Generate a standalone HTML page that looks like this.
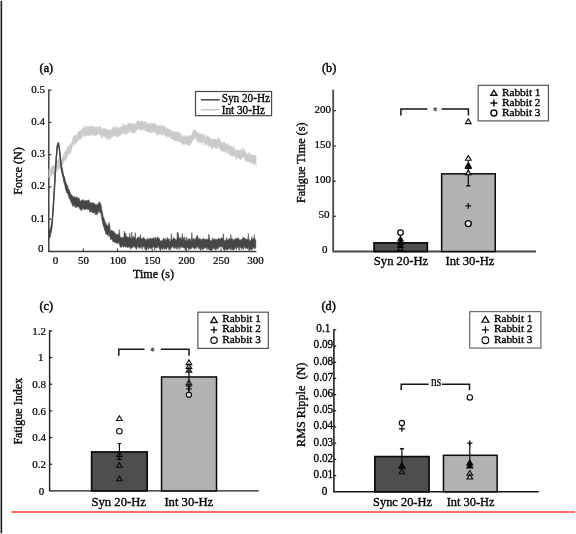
<!DOCTYPE html>
<html><head><meta charset="utf-8"><title>Figure</title>
<style>
html,body{margin:0;padding:0;background:#fff;overflow:hidden;}
svg{display:block;font-family:"Liberation Serif",serif;filter:blur(0.3px);}
</style></head><body>
<svg width="576" height="534" viewBox="0 0 576 534" style="font-family:'Liberation Serif',serif">
<rect x="-5" y="-5" width="586" height="544" fill="#fff"/>
<line x1="1.35" y1="0.8" x2="1.35" y2="533.2" stroke="#161616" stroke-width="1.55" />
<line x1="11.6" y1="511.95" x2="575.3" y2="511.95" stroke="#ff6e6e" stroke-width="1.9" />
<text x="39.6" y="71.6" font-size="12.2" text-anchor="start" fill="#000" stroke="#000" stroke-width="0.42" >(a)</text>
<path d="M48.8 89.60000000000002V251.4H256.4" stroke="#3c3c3c" stroke-width="1.45" fill="none"/>
<line x1="48.8" y1="251.4" x2="51.5" y2="251.4" stroke="#3c3c3c" stroke-width="1.15" />
<text x="43.4" y="252.1" font-size="11" text-anchor="end" fill="#000" stroke="#000" stroke-width="0.22" >0</text>
<line x1="48.8" y1="219.16" x2="51.5" y2="219.16" stroke="#3c3c3c" stroke-width="1.15" />
<text x="45.1" y="221.66" font-size="11" text-anchor="end" fill="#000" stroke="#000" stroke-width="0.22" >0.1</text>
<line x1="48.8" y1="186.92000000000002" x2="51.5" y2="186.92000000000002" stroke="#3c3c3c" stroke-width="1.15" />
<text x="45.1" y="189.42000000000002" font-size="11" text-anchor="end" fill="#000" stroke="#000" stroke-width="0.22" >0.2</text>
<line x1="48.8" y1="154.68" x2="51.5" y2="154.68" stroke="#3c3c3c" stroke-width="1.15" />
<text x="45.1" y="157.18" font-size="11" text-anchor="end" fill="#000" stroke="#000" stroke-width="0.22" >0.3</text>
<line x1="48.8" y1="122.44" x2="51.5" y2="122.44" stroke="#3c3c3c" stroke-width="1.15" />
<text x="45.1" y="124.94" font-size="11" text-anchor="end" fill="#000" stroke="#000" stroke-width="0.22" >0.4</text>
<line x1="48.8" y1="90.20000000000002" x2="51.5" y2="90.20000000000002" stroke="#3c3c3c" stroke-width="1.15" />
<text x="45.1" y="92.70000000000002" font-size="11" text-anchor="end" fill="#000" stroke="#000" stroke-width="0.22" >0.5</text>
<line x1="83.3" y1="251.4" x2="83.3" y2="248.6" stroke="#3c3c3c" stroke-width="1.1" />
<line x1="117.6" y1="251.4" x2="117.6" y2="248.6" stroke="#3c3c3c" stroke-width="1.1" />
<line x1="152.2" y1="251.4" x2="152.2" y2="248.6" stroke="#3c3c3c" stroke-width="1.1" />
<line x1="186.6" y1="251.4" x2="186.6" y2="248.6" stroke="#3c3c3c" stroke-width="1.1" />
<line x1="221.0" y1="251.4" x2="221.0" y2="248.6" stroke="#3c3c3c" stroke-width="1.1" />
<text x="55.5" y="264.1" font-size="11" text-anchor="middle" fill="#000" stroke="#000" stroke-width="0.22" >0</text>
<text x="83.4" y="264.1" font-size="11" text-anchor="middle" fill="#000" stroke="#000" stroke-width="0.22" >50</text>
<text x="118.0" y="264.1" font-size="11" text-anchor="middle" fill="#000" stroke="#000" stroke-width="0.22" >100</text>
<text x="152.3" y="264.1" font-size="11" text-anchor="middle" fill="#000" stroke="#000" stroke-width="0.22" >150</text>
<text x="186.4" y="264.1" font-size="11" text-anchor="middle" fill="#000" stroke="#000" stroke-width="0.22" >200</text>
<text x="221.2" y="264.1" font-size="11" text-anchor="middle" fill="#000" stroke="#000" stroke-width="0.22" >250</text>
<text x="255.6" y="264.1" font-size="11" text-anchor="middle" fill="#000" stroke="#000" stroke-width="0.22" >300</text>
<text x="153.5" y="277.6" font-size="12.1" text-anchor="middle" fill="#000" stroke="#000" stroke-width="0.33" >Time (s)</text>
<text transform="translate(22.3,171) rotate(-90)" font-size="12.2" text-anchor="middle" fill="#000" stroke="#000" stroke-width="0.33" >Force (N)</text>
<polygon points="48.8,170.4 49.3,168.5 49.9,169.4 50.4,168.7 51.0,167.8 51.5,166.6 52.1,166.3 52.6,165.6 53.2,165.9 53.7,165.3 54.3,165.3 54.8,165.8 55.4,164.6 55.9,164.3 56.5,164.3 57.0,160.4 57.6,160.6 58.1,160.5 58.7,159.6 59.2,158.0 59.8,159.1 60.3,159.2 60.9,158.5 61.4,160.6 62.0,158.6 62.5,156.0 63.1,156.1 63.6,154.2 64.2,154.4 64.7,151.7 65.3,151.9 65.8,150.9 66.4,148.9 66.9,149.5 67.5,146.4 68.0,148.2 68.6,146.7 69.1,145.7 69.7,145.2 70.2,145.1 70.8,143.3 71.3,143.3 71.9,142.2 72.4,140.1 73.0,137.7 73.5,136.1 74.1,135.2 74.6,136.9 75.2,136.0 75.7,134.9 76.3,136.7 76.8,135.1 77.4,133.4 77.9,132.6 78.5,132.4 79.0,131.4 79.6,131.0 80.1,130.5 80.7,130.4 81.2,131.3 81.8,129.1 82.3,128.3 82.9,128.6 83.4,129.6 84.0,126.5 84.5,127.5 85.1,125.9 85.6,127.6 86.2,128.7 86.7,126.7 87.3,127.8 87.8,125.8 88.4,127.3 88.9,126.2 89.5,126.0 90.0,126.5 90.6,126.8 91.1,127.0 91.7,127.5 92.2,125.1 92.8,126.9 93.3,126.5 93.9,127.2 94.4,126.4 95.0,127.8 95.5,127.3 96.1,126.5 96.6,126.6 97.2,128.3 97.7,127.6 98.3,127.2 98.8,126.4 99.4,125.4 99.9,127.2 100.5,126.9 101.0,127.7 101.6,128.7 102.1,129.7 102.7,129.3 103.2,128.0 103.8,128.1 104.3,129.1 104.9,128.3 105.4,127.8 106.0,130.8 106.5,129.3 107.1,130.1 107.6,129.1 108.2,132.3 108.7,129.1 109.3,131.3 109.8,130.3 110.4,131.0 110.9,129.7 111.5,128.9 112.0,130.4 112.6,128.1 113.1,128.1 113.7,126.1 114.2,129.2 114.8,127.3 115.3,126.5 115.9,129.0 116.4,127.7 117.0,127.5 117.5,127.8 118.1,127.0 118.6,127.8 119.2,128.6 119.7,127.8 120.3,126.9 120.8,127.8 121.4,125.9 121.9,127.6 122.5,126.4 123.0,123.4 123.6,124.7 124.1,125.1 124.7,124.7 125.2,125.3 125.8,125.3 126.3,126.9 126.9,125.5 127.4,123.7 128.0,125.1 128.5,122.7 129.1,123.6 129.6,124.1 130.2,123.1 130.7,124.3 131.3,124.6 131.8,123.2 132.4,124.8 132.9,123.5 133.5,123.9 134.0,125.3 134.6,123.2 135.1,124.7 135.7,123.5 136.2,124.0 136.8,121.5 137.3,121.0 137.9,121.1 138.4,120.5 139.0,121.0 139.5,121.4 140.1,120.8 140.6,122.0 141.2,121.2 141.7,120.8 142.3,121.8 142.8,122.1 143.4,121.8 143.9,123.0 144.5,121.0 145.0,122.3 145.6,122.1 146.1,122.5 146.7,123.0 147.2,124.2 147.8,122.3 148.3,123.4 148.9,124.8 149.4,124.1 150.0,124.4 150.5,122.5 151.1,123.0 151.6,123.7 152.2,123.3 152.7,123.2 153.3,123.9 153.8,123.1 154.4,125.1 154.9,122.5 155.5,124.1 156.0,126.3 156.6,124.5 157.1,125.5 157.7,126.8 158.2,126.8 158.8,125.1 159.3,127.6 159.9,125.6 160.4,125.0 161.0,127.1 161.5,125.5 162.1,126.2 162.6,126.9 163.2,124.8 163.7,126.8 164.3,126.2 164.8,125.7 165.4,128.6 165.9,127.4 166.5,129.8 167.0,128.2 167.6,127.9 168.1,129.3 168.7,128.9 169.2,129.1 169.8,129.3 170.3,131.9 170.9,130.7 171.4,129.9 172.0,131.4 172.5,131.1 173.1,133.0 173.6,131.6 174.2,132.0 174.7,132.5 175.3,131.9 175.8,131.6 176.4,132.7 176.9,131.7 177.5,131.5 178.0,133.1 178.6,131.9 179.1,132.1 179.7,133.3 180.2,134.8 180.8,134.0 181.3,133.9 181.9,137.7 182.4,135.9 183.0,137.7 183.5,135.5 184.1,136.5 184.6,135.2 185.2,136.9 185.7,136.6 186.3,136.3 186.8,135.7 187.4,135.7 187.9,137.1 188.5,136.3 189.0,136.6 189.6,135.6 190.1,135.8 190.7,134.9 191.2,135.9 191.8,135.6 192.3,134.1 192.9,130.4 193.4,130.3 194.0,131.3 194.5,129.5 195.1,130.3 195.6,130.1 196.2,130.7 196.7,132.2 197.3,133.0 197.8,133.1 198.4,132.7 198.9,132.5 199.5,133.7 200.0,135.2 200.6,134.0 201.1,135.2 201.7,133.1 202.2,135.9 202.8,134.1 203.3,134.3 203.9,134.9 204.4,134.2 205.0,136.7 205.5,137.6 206.1,137.0 206.6,135.5 207.2,135.8 207.7,136.4 208.3,136.1 208.8,137.0 209.4,138.5 209.9,138.0 210.5,138.4 211.0,138.9 211.6,139.1 212.1,140.4 212.7,139.4 213.2,138.2 213.8,138.9 214.3,140.0 214.9,139.4 215.4,139.0 216.0,139.7 216.5,139.6 217.1,139.5 217.6,141.0 218.2,137.0 218.7,137.4 219.3,138.0 219.8,138.8 220.4,142.0 220.9,141.2 221.5,142.6 222.0,142.0 222.6,145.2 223.1,142.6 223.7,141.3 224.2,143.1 224.8,142.5 225.3,143.3 225.9,143.8 226.4,144.0 227.0,145.9 227.5,144.3 228.1,142.9 228.6,146.3 229.2,145.9 229.7,144.7 230.3,146.7 230.8,146.2 231.4,146.3 231.9,146.8 232.5,147.4 233.0,147.6 233.6,147.6 234.1,146.1 234.7,148.7 235.2,149.8 235.8,151.7 236.3,150.2 236.9,150.1 237.4,149.3 238.0,149.7 238.5,149.7 239.1,150.7 239.6,150.9 240.2,150.9 240.7,149.0 241.3,152.4 241.8,151.3 242.4,149.4 242.9,147.4 243.5,150.5 244.0,150.7 244.6,149.5 245.1,152.7 245.7,152.2 246.2,151.6 246.8,154.4 247.3,154.2 247.9,154.2 248.4,153.6 249.0,152.1 249.5,153.3 250.1,155.0 250.6,155.5 251.2,154.6 251.7,153.3 252.3,156.1 252.8,154.7 253.4,154.9 253.9,157.6 254.5,154.7 255.0,155.3 255.6,155.6 256.1,156.2 256.1,166.2 255.6,163.0 255.0,162.4 254.5,164.0 253.9,165.1 253.4,164.2 252.8,162.4 252.3,163.1 251.7,162.6 251.2,162.8 250.6,163.5 250.1,162.8 249.5,162.5 249.0,160.5 248.4,161.9 247.9,161.7 247.3,161.7 246.8,161.2 246.2,161.8 245.7,160.5 245.1,160.6 244.6,158.4 244.0,157.6 243.5,157.3 242.9,155.5 242.4,157.3 241.8,158.4 241.3,159.9 240.7,158.7 240.2,159.9 239.6,158.6 239.1,157.6 238.5,158.6 238.0,158.9 237.4,157.8 236.9,156.8 236.3,158.3 235.8,159.5 235.2,157.3 234.7,155.6 234.1,155.8 233.6,156.0 233.0,155.1 232.5,156.6 231.9,155.9 231.4,155.9 230.8,156.3 230.3,154.1 229.7,154.6 229.2,154.3 228.6,154.1 228.1,150.8 227.5,152.2 227.0,153.6 226.4,152.1 225.9,151.3 225.3,151.2 224.8,152.8 224.2,150.6 223.7,150.4 223.1,151.7 222.6,152.4 222.0,151.2 221.5,150.5 220.9,150.7 220.4,150.6 219.8,148.2 219.3,147.7 218.7,145.3 218.2,146.4 217.6,148.8 217.1,146.2 216.5,148.7 216.0,147.7 215.4,148.8 214.9,145.5 214.3,146.7 213.8,147.0 213.2,147.4 212.7,148.6 212.1,148.2 211.6,149.2 211.0,147.2 210.5,145.0 209.9,146.1 209.4,146.8 208.8,146.1 208.3,145.8 207.7,144.8 207.2,144.7 206.6,144.1 206.1,144.9 205.5,145.4 205.0,144.4 204.4,143.6 203.9,142.5 203.3,140.9 202.8,141.6 202.2,144.7 201.7,141.3 201.1,142.8 200.6,142.9 200.0,142.1 199.5,142.3 198.9,140.8 198.4,142.3 197.8,142.7 197.3,140.9 196.7,140.7 196.2,139.1 195.6,137.6 195.1,137.7 194.5,139.1 194.0,138.9 193.4,140.1 192.9,139.7 192.3,140.7 191.8,142.9 191.2,143.1 190.7,143.1 190.1,144.8 189.6,145.9 189.0,145.3 188.5,144.8 187.9,145.4 187.4,144.2 186.8,144.4 186.3,143.6 185.7,143.1 185.2,144.9 184.6,143.3 184.1,143.9 183.5,142.9 183.0,144.9 182.4,145.0 181.9,143.8 181.3,141.9 180.8,142.5 180.2,142.5 179.7,141.4 179.1,141.3 178.6,141.5 178.0,141.2 177.5,139.4 176.9,140.3 176.4,142.1 175.8,140.9 175.3,139.7 174.7,140.7 174.2,140.9 173.6,138.8 173.1,140.2 172.5,139.1 172.0,138.3 171.4,138.5 170.9,138.1 170.3,138.3 169.8,136.9 169.2,136.3 168.7,136.9 168.1,136.8 167.6,135.4 167.0,135.4 166.5,138.1 165.9,135.8 165.4,136.3 164.8,136.1 164.3,135.1 163.7,133.7 163.2,133.5 162.6,134.8 162.1,135.4 161.5,134.2 161.0,135.1 160.4,133.9 159.9,133.5 159.3,134.5 158.8,134.0 158.2,133.7 157.7,134.8 157.1,135.6 156.6,132.5 156.0,135.2 155.5,131.3 154.9,130.6 154.4,132.7 153.8,131.0 153.3,132.0 152.7,132.6 152.2,131.8 151.6,132.9 151.1,132.4 150.5,132.4 150.0,131.5 149.4,133.3 148.9,131.1 148.3,132.5 147.8,130.5 147.2,131.8 146.7,131.2 146.1,131.9 145.6,130.8 145.0,129.3 144.5,129.2 143.9,130.7 143.4,128.6 142.8,128.9 142.3,129.7 141.7,129.3 141.2,128.9 140.6,131.0 140.1,128.7 139.5,128.9 139.0,130.0 138.4,126.9 137.9,129.5 137.3,130.1 136.8,129.4 136.2,131.3 135.7,131.1 135.1,132.8 134.6,130.4 134.0,133.3 133.5,133.2 132.9,132.9 132.4,131.4 131.8,130.7 131.3,133.3 130.7,130.7 130.2,131.1 129.6,130.7 129.1,132.8 128.5,131.6 128.0,131.3 127.4,133.9 126.9,133.9 126.3,133.9 125.8,134.0 125.2,134.5 124.7,131.5 124.1,132.3 123.6,134.5 123.0,133.8 122.5,133.6 121.9,134.1 121.4,133.7 120.8,134.1 120.3,135.8 119.7,136.1 119.2,135.1 118.6,135.8 118.1,137.0 117.5,135.7 117.0,136.9 116.4,135.7 115.9,137.4 115.3,135.1 114.8,134.2 114.2,136.0 113.7,134.5 113.1,136.5 112.6,136.4 112.0,137.7 111.5,136.4 110.9,137.8 110.4,139.8 109.8,139.2 109.3,139.3 108.7,136.9 108.2,139.7 107.6,137.2 107.1,139.6 106.5,138.8 106.0,137.7 105.4,135.9 104.9,137.4 104.3,135.7 103.8,136.1 103.2,136.9 102.7,135.4 102.1,138.2 101.6,138.7 101.0,135.6 100.5,134.5 99.9,135.4 99.4,134.3 98.8,135.0 98.3,133.3 97.7,133.7 97.2,135.0 96.6,135.2 96.1,135.7 95.5,136.0 95.0,136.0 94.4,134.0 93.9,136.1 93.3,135.4 92.8,136.1 92.2,133.7 91.7,134.1 91.1,135.1 90.6,135.3 90.0,135.1 89.5,136.3 88.9,134.4 88.4,135.6 87.8,134.7 87.3,135.7 86.7,135.7 86.2,136.1 85.6,136.3 85.1,136.3 84.5,134.9 84.0,134.6 83.4,137.0 82.9,136.7 82.3,135.5 81.8,137.2 81.2,139.3 80.7,137.7 80.1,139.2 79.6,137.7 79.0,140.4 78.5,140.2 77.9,140.0 77.4,140.8 76.8,142.8 76.3,144.2 75.7,141.5 75.2,142.6 74.6,145.5 74.1,143.8 73.5,143.9 73.0,145.1 72.4,147.3 71.9,148.7 71.3,150.2 70.8,152.8 70.2,152.7 69.7,153.8 69.1,154.4 68.6,154.2 68.0,154.9 67.5,155.4 66.9,159.1 66.4,156.9 65.8,159.8 65.3,160.2 64.7,160.3 64.2,161.6 63.6,161.8 63.1,164.4 62.5,164.4 62.0,166.4 61.4,167.6 60.9,166.2 60.3,167.4 59.8,169.1 59.2,166.4 58.7,168.8 58.1,169.5 57.6,170.4 57.0,168.7 56.5,171.9 55.9,172.3 55.4,172.7 54.8,172.7 54.3,174.2 53.7,175.0 53.2,174.2 52.6,174.1 52.1,174.9 51.5,175.7 51.0,174.7 50.4,176.9 49.9,175.9 49.3,175.7 48.8,178.0" fill="#cbcbcb" stroke="#cbcbcb" stroke-width="0.5" stroke-linejoin="round"/>
<polygon points="48.8,230.2 49.3,229.4 49.8,230.4 50.3,230.1 50.8,226.8 51.3,224.0 51.8,222.3 52.3,220.4 52.8,213.1 53.3,205.9 53.8,198.6 54.3,190.5 54.8,181.7 55.3,173.0 55.8,164.2 56.3,157.2 56.8,151.5 57.3,145.7 57.8,143.7 58.3,142.6 58.8,144.9 59.3,147.7 59.8,152.7 60.3,157.7 60.8,160.5 61.3,163.5 61.8,168.4 62.3,167.4 62.8,171.2 63.3,173.2 63.8,176.3 64.3,176.2 64.8,177.6 65.3,180.9 65.8,182.3 66.3,183.4 66.8,184.5 67.3,185.0 67.8,186.6 68.3,188.4 68.8,189.0 69.3,189.9 69.8,191.6 70.3,192.2 70.8,194.5 71.3,194.8 71.8,194.8 72.3,195.4 72.8,196.4 73.3,197.4 73.8,196.7 74.3,196.3 74.8,196.8 75.3,197.3 75.8,198.5 76.3,196.8 76.8,197.9 77.3,196.9 77.8,198.8 78.3,197.9 78.8,198.1 79.3,198.5 79.8,200.2 80.3,201.2 80.8,200.7 81.3,201.0 81.8,200.2 82.3,200.1 82.8,199.3 83.3,201.1 83.8,200.3 84.3,201.1 84.8,201.2 85.3,200.0 85.8,201.2 86.3,200.8 86.8,200.4 87.3,200.9 87.8,200.0 88.3,200.6 88.8,199.7 89.3,201.2 89.8,202.4 90.3,202.9 90.8,203.3 91.3,203.1 91.8,202.1 92.3,203.0 92.8,203.5 93.3,202.6 93.8,204.1 94.3,203.1 94.8,204.2 95.3,205.8 95.8,204.1 96.3,205.6 96.8,204.6 97.3,204.7 97.8,203.5 98.3,204.6 98.8,202.2 99.3,201.5 99.8,202.6 100.3,203.1 100.8,204.2 101.3,205.7 101.8,209.4 102.3,211.6 102.8,214.5 103.3,216.9 103.8,217.6 104.3,219.0 104.8,221.1 105.3,222.1 105.8,225.4 106.3,223.3 106.8,225.2 107.3,225.1 107.8,225.9 108.3,226.0 108.8,222.5 109.3,223.2 109.8,225.6 110.3,230.3 110.8,231.1 111.3,230.7 111.8,230.1 112.3,230.7 112.8,231.3 113.3,231.2 113.8,231.2 114.3,232.5 114.8,232.7 115.3,233.4 115.8,234.0 116.3,234.3 116.8,234.9 117.3,235.1 117.8,234.1 118.3,233.7 118.8,235.4 119.3,229.5 119.8,235.4 120.3,237.3 120.8,238.2 121.3,236.8 121.8,237.9 122.3,238.3 122.8,237.0 123.3,237.9 123.8,237.1 124.3,231.1 124.8,232.6 125.3,236.8 125.8,233.1 126.3,236.8 126.8,237.0 127.3,236.8 127.8,236.9 128.3,237.0 128.8,237.9 129.3,237.1 129.8,233.2 130.3,238.1 130.8,238.1 131.3,239.4 131.8,231.9 132.3,237.4 132.8,237.8 133.3,236.9 133.8,236.1 134.3,237.9 134.8,237.7 135.3,232.5 135.8,239.3 136.3,240.0 136.8,238.8 137.3,237.7 137.8,237.5 138.3,238.0 138.8,236.8 139.3,239.1 139.8,237.5 140.3,234.6 140.8,237.5 141.3,238.8 141.8,239.3 142.3,238.2 142.8,238.3 143.3,237.7 143.8,237.4 144.3,238.4 144.8,239.1 145.3,239.0 145.8,241.1 146.3,239.7 146.8,239.5 147.3,240.6 147.8,237.8 148.3,240.5 148.8,238.9 149.3,238.1 149.8,239.1 150.3,238.5 150.8,238.7 151.3,238.2 151.8,239.8 152.3,238.3 152.8,238.1 153.3,239.0 153.8,237.8 154.3,237.3 154.8,240.8 155.3,237.6 155.8,237.7 156.3,239.9 156.8,238.6 157.3,237.0 157.8,236.7 158.3,238.2 158.8,238.2 159.3,238.4 159.8,239.6 160.3,240.6 160.8,241.4 161.3,240.8 161.8,240.6 162.3,240.3 162.8,239.9 163.3,238.1 163.8,239.3 164.3,239.5 164.8,239.0 165.3,238.2 165.8,240.8 166.3,239.6 166.8,239.7 167.3,237.3 167.8,239.1 168.3,238.7 168.8,239.7 169.3,238.8 169.8,241.7 170.3,241.6 170.8,240.3 171.3,233.6 171.8,239.8 172.3,239.3 172.8,239.5 173.3,238.8 173.8,237.7 174.3,237.8 174.8,239.3 175.3,239.6 175.8,239.3 176.3,239.9 176.8,240.0 177.3,232.0 177.8,238.8 178.3,232.7 178.8,237.2 179.3,238.8 179.8,237.8 180.3,239.7 180.8,237.2 181.3,239.7 181.8,238.6 182.3,233.5 182.8,239.3 183.3,237.3 183.8,239.6 184.3,240.6 184.8,236.7 185.3,240.1 185.8,240.2 186.3,241.6 186.8,237.1 187.3,241.0 187.8,240.5 188.3,238.6 188.8,240.2 189.3,239.3 189.8,238.6 190.3,238.9 190.8,240.6 191.3,240.8 191.8,232.3 192.3,240.0 192.8,238.3 193.3,238.7 193.8,240.0 194.3,238.4 194.8,240.4 195.3,239.2 195.8,239.3 196.3,236.5 196.8,238.1 197.3,235.0 197.8,236.5 198.3,238.3 198.8,239.6 199.3,238.7 199.8,238.7 200.3,238.5 200.8,240.9 201.3,239.3 201.8,239.8 202.3,239.2 202.8,239.1 203.3,238.1 203.8,238.8 204.3,239.3 204.8,239.4 205.3,239.6 205.8,238.9 206.3,238.8 206.8,240.1 207.3,239.6 207.8,239.5 208.3,239.0 208.8,234.2 209.3,236.2 209.8,239.3 210.3,241.2 210.8,240.2 211.3,241.2 211.8,240.9 212.3,238.1 212.8,240.3 213.3,239.9 213.8,238.2 214.3,238.7 214.8,239.7 215.3,239.2 215.8,239.5 216.3,239.0 216.8,240.2 217.3,239.4 217.8,240.2 218.3,238.0 218.8,238.9 219.3,238.6 219.8,239.3 220.3,238.9 220.8,239.2 221.3,237.7 221.8,237.8 222.3,238.6 222.8,238.2 223.3,233.5 223.8,239.0 224.3,241.0 224.8,241.2 225.3,239.7 225.8,240.0 226.3,240.5 226.8,237.4 227.3,240.4 227.8,239.8 228.3,239.7 228.8,239.2 229.3,238.3 229.8,239.0 230.3,240.2 230.8,234.3 231.3,239.6 231.8,238.4 232.3,240.4 232.8,238.6 233.3,239.2 233.8,240.9 234.3,239.7 234.8,239.5 235.3,238.6 235.8,238.7 236.3,239.2 236.8,237.9 237.3,237.7 237.8,238.8 238.3,238.5 238.8,238.3 239.3,240.6 239.8,239.6 240.3,240.6 240.8,239.4 241.3,239.8 241.8,239.8 242.3,238.8 242.8,237.7 243.3,237.4 243.8,237.2 244.3,237.9 244.8,239.0 245.3,238.6 245.8,239.1 246.3,239.4 246.8,239.5 247.3,238.8 247.8,240.1 248.3,233.2 248.8,240.6 249.3,239.3 249.8,241.5 250.3,240.9 250.8,239.9 251.3,239.5 251.8,236.5 252.3,239.3 252.8,238.9 253.3,238.4 253.8,239.4 254.3,234.5 254.8,238.7 255.3,239.7 255.8,240.1 255.8,248.2 255.3,248.2 254.8,248.5 254.3,249.0 253.8,247.7 253.3,246.9 252.8,248.4 252.3,249.8 251.8,250.3 251.3,249.2 250.8,249.4 250.3,248.9 249.8,250.4 249.3,250.0 248.8,250.4 248.3,245.5 247.8,248.8 247.3,248.9 246.8,247.6 246.3,248.6 245.8,247.2 245.3,248.4 244.8,248.3 244.3,246.2 243.8,246.7 243.3,249.5 242.8,247.4 242.3,248.0 241.8,249.5 241.3,248.7 240.8,247.9 240.3,247.1 239.8,247.6 239.3,250.3 238.8,249.4 238.3,247.0 237.8,247.3 237.3,247.0 236.8,248.2 236.3,249.5 235.8,246.3 235.3,248.7 234.8,247.5 234.3,249.9 233.8,250.1 233.3,250.1 232.8,249.1 232.3,250.1 231.8,247.0 231.3,249.9 230.8,249.9 230.3,248.2 229.8,248.7 229.3,248.4 228.8,249.4 228.3,248.0 227.8,248.9 227.3,250.3 226.8,249.0 226.3,249.9 225.8,249.2 225.3,248.7 224.8,250.4 224.3,250.4 223.8,249.4 223.3,249.3 222.8,247.7 222.3,246.3 221.8,246.7 221.3,247.1 220.8,245.7 220.3,247.8 219.8,246.6 219.3,246.7 218.8,247.4 218.3,248.4 217.8,249.3 217.3,248.9 216.8,247.8 216.3,249.3 215.8,250.4 215.3,248.5 214.8,249.2 214.3,248.9 213.8,248.6 213.3,247.4 212.8,248.8 212.3,250.4 211.8,249.6 211.3,250.4 210.8,250.4 210.3,250.4 209.8,250.1 209.3,249.9 208.8,249.2 208.3,248.3 207.8,249.9 207.3,245.9 206.8,248.7 206.3,248.8 205.8,247.3 205.3,247.7 204.8,247.4 204.3,248.4 203.8,248.5 203.3,249.1 202.8,249.0 202.3,250.2 201.8,248.7 201.3,247.2 200.8,250.4 200.3,249.8 199.8,248.9 199.3,248.2 198.8,248.7 198.3,247.6 197.8,246.8 197.3,247.1 196.8,245.8 196.3,248.8 195.8,247.9 195.3,248.0 194.8,248.7 194.3,249.4 193.8,248.1 193.3,247.7 192.8,247.8 192.3,245.9 191.8,248.1 191.3,248.9 190.8,248.6 190.3,249.3 189.8,248.3 189.3,249.7 188.8,249.8 188.3,248.5 187.8,248.0 187.3,247.6 186.8,247.6 186.3,250.0 185.8,249.2 185.3,250.4 184.8,248.3 184.3,248.1 183.8,247.0 183.3,248.0 182.8,247.8 182.3,247.2 181.8,247.5 181.3,246.4 180.8,247.2 180.3,248.4 179.8,244.6 179.3,249.6 178.8,247.6 178.3,247.5 177.8,246.7 177.3,249.1 176.8,249.3 176.3,247.7 175.8,246.6 175.3,248.5 174.8,248.5 174.3,247.4 173.8,247.4 173.3,248.4 172.8,246.4 172.3,245.9 171.8,247.3 171.3,248.3 170.8,248.1 170.3,250.1 169.8,250.4 169.3,247.5 168.8,249.5 168.3,247.8 167.8,247.4 167.3,247.1 166.8,248.9 166.3,249.2 165.8,249.3 165.3,247.8 164.8,249.6 164.3,248.3 163.8,247.5 163.3,248.5 162.8,249.8 162.3,248.8 161.8,248.0 161.3,248.0 160.8,250.4 160.3,250.4 159.8,249.4 159.3,248.6 158.8,247.5 158.3,246.3 157.8,245.4 157.3,248.1 156.8,248.1 156.3,248.0 155.8,248.0 155.3,245.9 154.8,250.4 154.3,247.9 153.8,246.6 153.3,247.3 152.8,247.5 152.3,247.8 151.8,248.2 151.3,247.9 150.8,249.0 150.3,248.4 149.8,248.0 149.3,247.3 148.8,249.1 148.3,249.3 147.8,245.9 147.3,248.5 146.8,249.6 146.3,250.4 145.8,250.4 145.3,249.3 144.8,249.1 144.3,246.0 143.8,246.5 143.3,247.4 142.8,245.7 142.3,249.3 141.8,247.5 141.3,247.1 140.8,246.5 140.3,248.8 139.8,247.6 139.3,248.1 138.8,247.4 138.3,247.1 137.8,246.0 137.3,247.0 136.8,249.3 136.3,249.0 135.8,248.5 135.3,247.9 134.8,246.7 134.3,246.9 133.8,246.4 133.3,245.8 132.8,247.6 132.3,248.2 131.8,246.3 131.3,248.2 130.8,249.3 130.3,248.3 129.8,246.9 129.3,247.5 128.8,247.2 128.3,246.2 127.8,247.8 127.3,247.7 126.8,246.2 126.3,246.9 125.8,247.1 125.3,247.3 124.8,246.8 124.3,245.7 123.8,246.5 123.3,247.4 122.8,246.1 122.3,245.1 121.8,247.3 121.3,247.2 120.8,246.9 120.3,247.3 119.8,245.6 119.3,244.5 118.8,242.2 118.3,241.8 117.8,243.9 117.3,243.8 116.8,242.8 116.3,242.8 115.8,242.6 115.3,242.9 114.8,242.2 114.3,242.4 113.8,241.3 113.3,241.8 112.8,241.7 112.3,239.7 111.8,238.8 111.3,239.2 110.8,240.1 110.3,238.5 109.8,236.5 109.3,235.5 108.8,236.4 108.3,232.8 107.8,235.6 107.3,233.9 106.8,234.7 106.3,233.2 105.8,234.3 105.3,231.0 104.8,230.9 104.3,229.3 103.8,227.0 103.3,225.9 102.8,223.8 102.3,221.8 101.8,219.5 101.3,216.2 100.8,213.0 100.3,213.1 99.8,212.4 99.3,210.9 98.8,210.5 98.3,213.1 97.8,212.6 97.3,214.7 96.8,213.0 96.3,215.2 95.8,214.1 95.3,214.6 94.8,212.6 94.3,212.5 93.8,213.3 93.3,212.6 92.8,212.9 92.3,212.3 91.8,211.7 91.3,211.3 90.8,212.5 90.3,210.7 89.8,211.9 89.3,209.3 88.8,209.9 88.3,209.1 87.8,209.5 87.3,209.6 86.8,209.1 86.3,208.8 85.8,209.6 85.3,208.5 84.8,210.0 84.3,209.2 83.8,208.6 83.3,209.4 82.8,208.0 82.3,208.6 81.8,211.0 81.3,209.7 80.8,209.0 80.3,210.2 79.8,208.3 79.3,208.6 78.8,206.1 78.3,206.8 77.8,207.4 77.3,205.9 76.8,206.7 76.3,207.6 75.8,207.0 75.3,207.6 74.8,206.1 74.3,205.3 73.8,206.2 73.3,205.3 72.8,206.4 72.3,205.3 71.8,202.4 71.3,203.2 70.8,201.4 70.3,200.4 69.8,198.7 69.3,198.8 68.8,197.4 68.3,194.9 67.8,194.2 67.3,193.5 66.8,193.0 66.3,191.9 65.8,190.3 65.3,188.4 64.8,185.7 64.3,183.6 63.8,182.5 63.3,178.9 62.8,176.3 62.3,173.9 61.8,173.5 61.3,170.2 60.8,166.2 60.3,158.3 59.8,153.3 59.3,148.3 58.8,145.5 58.3,143.2 57.8,144.3 57.3,146.3 56.8,152.1 56.3,157.8 55.8,164.8 55.3,173.6 54.8,182.3 54.3,191.1 53.8,199.2 53.3,206.5 52.8,213.7 52.3,221.0 51.8,229.0 51.3,232.6 50.8,233.9 50.3,237.5 49.8,236.6 49.3,237.6 48.8,239.1" fill="#474747" stroke="#474747" stroke-width="0.5" stroke-linejoin="round"/>
<path d="M48.8 236.0 49.3 234.8 49.8 233.6 50.3 232.5 50.8 230.6 51.3 228.3 51.8 225.9 52.3 220.7 52.8 213.4 53.3 206.2 53.8 198.9 54.3 190.8 54.8 182.0 55.3 173.3 55.8 164.5 56.3 157.5 56.8 151.8 57.3 146.0 57.8 144.0 58.3 142.9 58.8 145.2 59.3 148.0 59.8 153.0 60.3 158.0 60.8 162.5 61.3 166.8 61.8 171.0 62.3 172.9 62.8 174.8 63.3 176.7 63.8 178.5 64.3 180.1 64.8 181.7 65.3 183.3 65.8 184.8" fill="none" stroke="#474747" stroke-width="1.5" stroke-linejoin="round"/>
<rect x="195.5" y="91.5" width="76.1" height="24.2" fill="#fff" stroke="#444" stroke-width="1.15"/>
<line x1="200.9" y1="99.8" x2="219.7" y2="99.8" stroke="#2a2a2a" stroke-width="1.3" />
<line x1="200.9" y1="109.8" x2="219.7" y2="109.8" stroke="#c2c2c2" stroke-width="1.3" />
<text transform="translate(221.7,101.8) scale(0.93,1)" font-size="12.1" text-anchor="start" fill="#000" stroke="#000" stroke-width="0.33" >Syn 20-Hz</text>
<text transform="translate(221.7,113.5) scale(0.93,1)" font-size="12.1" text-anchor="start" fill="#000" stroke="#000" stroke-width="0.33" >Int 30-Hz</text>
<text x="322" y="71.6" font-size="12.2" text-anchor="start" fill="#000" stroke="#000" stroke-width="0.42" >(b)</text>
<path d="M333.2 89.4V251.5H536" stroke="#4a4a4a" stroke-width="1.8" fill="none"/>
<text x="327.5" y="253.2" font-size="11" text-anchor="end" fill="#000" stroke="#000" stroke-width="0.22" >0</text>
<line x1="333.2" y1="216.3" x2="335.9" y2="216.3" stroke="#333" stroke-width="1.3" />
<text x="329.4" y="218.3" font-size="11" text-anchor="end" fill="#000" stroke="#000" stroke-width="0.22" >50</text>
<line x1="333.2" y1="181.10000000000002" x2="335.9" y2="181.10000000000002" stroke="#333" stroke-width="1.3" />
<text x="331.1" y="183.10000000000002" font-size="11" text-anchor="end" fill="#000" stroke="#000" stroke-width="0.22" >100</text>
<line x1="333.2" y1="145.9" x2="335.9" y2="145.9" stroke="#333" stroke-width="1.3" />
<text x="331.1" y="147.9" font-size="11" text-anchor="end" fill="#000" stroke="#000" stroke-width="0.22" >150</text>
<line x1="333.2" y1="110.70000000000002" x2="335.9" y2="110.70000000000002" stroke="#333" stroke-width="1.3" />
<text x="331.1" y="112.70000000000002" font-size="11" text-anchor="end" fill="#000" stroke="#000" stroke-width="0.22" >200</text>
<text transform="translate(305.3,162.8) rotate(-90)" font-size="12.2" text-anchor="middle" fill="#000" stroke="#000" stroke-width="0.33" >Fatigue Time (s)</text>
<rect x="374.05" y="242.9" width="53.30" height="8.60" fill="#4e4e4e" stroke="#0a0a0a" stroke-width="1.7"/>
<rect x="441.65" y="173.85" width="53.60" height="77.65" fill="#b2b2b2" stroke="#0a0a0a" stroke-width="1.5"/>
<text x="401.0" y="264.5" font-size="12.65" text-anchor="middle" fill="#000" stroke="#000" stroke-width="0.33" >Syn 20-Hz</text>
<text x="470.0" y="264.5" font-size="12.65" text-anchor="middle" fill="#000" stroke="#000" stroke-width="0.33" >Int 30-Hz</text>
<path d="M400.9 115.5V109.1H427.3M441.5 109.1H468.4V115.5" stroke="#161616" stroke-width="1.5" fill="none"/>
<path d="M435.30 107.30L435.30 111.30M433.57 108.30L437.03 110.30M437.03 108.30L433.57 110.30" stroke="#555" stroke-width="1.15" fill="none"/>
<circle cx="400.50" cy="232.60" r="2.75" fill="#fff" stroke="#0a0a0a" stroke-width="1.3"/>
<path d="M400.50 235.40L396.90 241.60L404.10 241.60Z" fill="#0a0a0a"/>
<path d="M400.50 238.80L396.80 245.00L404.20 245.00Z" fill="#0a0a0a"/>
<path d="M400.50 241.80L396.80 248.00L404.20 248.00Z" fill="#0a0a0a"/>
<path d="M400.50 244.65L396.70 250.95L404.30 250.95ZM400.50 246.74L398.61 249.87L402.39 249.87Z" fill="#0a0a0a" fill-rule="evenodd"/>
<path d="M468.30 161.00V186.00" stroke="#0a0a0a" stroke-width="1.2" fill="none"/>
<path d="M466.20 185.80H470.40" stroke="#0a0a0a" stroke-width="1.5" fill="none"/>
<path d="M468.30 117.85L464.50 124.15L472.10 124.15ZM468.30 119.94L466.41 123.07L470.19 123.07Z" fill="#0a0a0a" fill-rule="evenodd"/>
<path d="M468.30 156.64L466.41 159.77L470.19 159.77Z" fill="#fff"/>
<path d="M468.30 154.55L464.50 160.85L472.10 160.85ZM468.30 156.64L466.41 159.77L470.19 159.77Z" fill="#0a0a0a" fill-rule="evenodd"/>
<path d="M468.30 161.40L464.50 167.80L472.10 167.80Z" fill="#0a0a0a"/>
<path d="M468.30 162.70L464.50 169.10L472.10 169.10Z" fill="#0a0a0a"/>
<path d="M468.30 171.14L466.41 174.27L470.19 174.27Z" fill="#d0d0d0"/>
<path d="M468.30 169.05L464.50 175.35L472.10 175.35ZM468.30 171.14L466.41 174.27L470.19 174.27Z" fill="#0a0a0a" fill-rule="evenodd"/>
<path d="M465.40 205.80H471.20M468.30 202.90V208.70" stroke="#0a0a0a" stroke-width="1.25" fill="none"/>
<circle cx="468.30" cy="223.60" r="3.0" fill="#e4e4e4" stroke="#0a0a0a" stroke-width="1.4"/>
<rect x="478.2" y="85.3" width="70.20" height="35.60" fill="#fff" stroke="#505050" stroke-width="1.15"/>
<path d="M493.90 88.90L489.60 95.90L498.20 95.90ZM493.90 91.48L492.01 94.55L495.79 94.55Z" fill="#0a0a0a" fill-rule="evenodd"/>
<path d="M490.40 102.90H497.40M493.90 99.40V106.40" stroke="#0a0a0a" stroke-width="1.5" fill="none"/>
<circle cx="493.90" cy="113.00" r="3.0" fill="none" stroke="#0a0a0a" stroke-width="1.4"/>
<text x="501.9" y="95.7" font-size="11.3" text-anchor="start" fill="#000" stroke="#000" stroke-width="0.33" >Rabbit 1</text>
<text x="501.9" y="106.1" font-size="11.3" text-anchor="start" fill="#000" stroke="#000" stroke-width="0.33" >Rabbit 2</text>
<text x="501.9" y="116.3" font-size="11.3" text-anchor="start" fill="#000" stroke="#000" stroke-width="0.33" >Rabbit 3</text>
<text x="39.5" y="310.3" font-size="12.2" text-anchor="start" fill="#000" stroke="#000" stroke-width="0.42" >(c)</text>
<path d="M49.6 330.28V490.9H258.7" stroke="#1a1a1a" stroke-width="1.4" fill="none"/>
<text x="44.3" y="494.59999999999997" font-size="11" text-anchor="end" fill="#000" stroke="#000" stroke-width="0.22" >0</text>
<line x1="49.6" y1="464.22999999999996" x2="52.2" y2="464.22999999999996" stroke="#1a1a1a" stroke-width="1.15" />
<text x="46.0" y="467.92999999999995" font-size="11" text-anchor="end" fill="#000" stroke="#000" stroke-width="0.22" >0.2</text>
<line x1="49.6" y1="437.55999999999995" x2="52.2" y2="437.55999999999995" stroke="#1a1a1a" stroke-width="1.15" />
<text x="46.0" y="441.25999999999993" font-size="11" text-anchor="end" fill="#000" stroke="#000" stroke-width="0.22" >0.4</text>
<line x1="49.6" y1="410.89" x2="52.2" y2="410.89" stroke="#1a1a1a" stroke-width="1.15" />
<text x="46.0" y="414.59" font-size="11" text-anchor="end" fill="#000" stroke="#000" stroke-width="0.22" >0.6</text>
<line x1="49.6" y1="384.21999999999997" x2="52.2" y2="384.21999999999997" stroke="#1a1a1a" stroke-width="1.15" />
<text x="46.0" y="387.91999999999996" font-size="11" text-anchor="end" fill="#000" stroke="#000" stroke-width="0.22" >0.8</text>
<line x1="49.6" y1="357.54999999999995" x2="52.2" y2="357.54999999999995" stroke="#1a1a1a" stroke-width="1.15" />
<text x="43.6" y="361.24999999999994" font-size="11" text-anchor="end" fill="#000" stroke="#000" stroke-width="0.22" >1</text>
<line x1="49.6" y1="330.88" x2="52.2" y2="330.88" stroke="#1a1a1a" stroke-width="1.15" />
<text x="46.0" y="334.58" font-size="11" text-anchor="end" fill="#000" stroke="#000" stroke-width="0.22" >1.2</text>
<text transform="translate(22.4,411.2) rotate(-90)" font-size="12.1" text-anchor="middle" fill="#000" stroke="#000" stroke-width="0.33" >Fatigue Index</text>
<rect x="91.65" y="451.95" width="55.50" height="38.95" fill="#4e4e4e" stroke="#0a0a0a" stroke-width="1.7"/>
<rect x="161.55" y="376.95" width="55.00" height="113.95" fill="#b2b2b2" stroke="#0a0a0a" stroke-width="1.5"/>
<text x="118.7" y="506" font-size="12.65" text-anchor="middle" fill="#000" stroke="#000" stroke-width="0.33" >Syn 20-Hz</text>
<text x="188.8" y="506" font-size="12.65" text-anchor="middle" fill="#000" stroke="#000" stroke-width="0.33" >Int 30-Hz</text>
<path d="M118.8 355.7V349.2H144.5M160.8 349.2H189V355.7" stroke="#161616" stroke-width="1.5" fill="none"/>
<path d="M152.60 347.40L152.60 351.40M150.87 348.40L154.33 350.40M154.33 348.40L150.87 350.40" stroke="#555" stroke-width="1.15" fill="none"/>
<path d="M119.40 443.50V459.30" stroke="#0a0a0a" stroke-width="1.2" fill="none"/>
<path d="M117.60 443.50H121.20" stroke="#0a0a0a" stroke-width="1.2" fill="none"/>
<path d="M116.80 459.30H122.00" stroke="#0a0a0a" stroke-width="1.2" fill="none"/>
<path d="M119.40 416.84L117.51 419.97L121.29 419.97Z" fill="#fff"/>
<path d="M119.40 414.75L115.60 421.05L123.20 421.05ZM119.40 416.84L117.51 419.97L121.29 419.97Z" fill="#0a0a0a" fill-rule="evenodd"/>
<circle cx="119.40" cy="431.30" r="2.75" fill="#fff" stroke="#0a0a0a" stroke-width="1.12"/>
<path d="M119.40 450.75L115.60 457.05L123.20 457.05ZM119.40 452.84L117.51 455.97L121.29 455.97Z" fill="#0a0a0a" fill-rule="evenodd"/>
<path d="M119.40 461.55L115.60 467.85L123.20 467.85ZM119.40 463.64L117.51 466.77L121.29 466.77Z" fill="#0a0a0a" fill-rule="evenodd"/>
<path d="M119.40 475.05L115.60 481.35L123.20 481.35ZM119.40 477.14L117.51 480.27L121.29 480.27Z" fill="#0a0a0a" fill-rule="evenodd"/>
<path d="M188.95 370.00V392.00" stroke="#0a0a0a" stroke-width="1.2" fill="none"/>
<path d="M186.35 386.30H191.55" stroke="#0a0a0a" stroke-width="1.2" fill="none"/>
<path d="M188.95 360.94L187.06 364.07L190.84 364.07Z" fill="#fff"/>
<path d="M188.95 358.85L185.15 365.15L192.75 365.15ZM188.95 360.94L187.06 364.07L190.84 364.07Z" fill="#0a0a0a" fill-rule="evenodd"/>
<path d="M188.95 364.84L187.06 367.97L190.84 367.97Z" fill="#aaa"/>
<path d="M188.95 362.75L185.15 369.05L192.75 369.05ZM188.95 364.84L187.06 367.97L190.84 367.97Z" fill="#0a0a0a" fill-rule="evenodd"/>
<path d="M188.95 368.54L187.06 371.67L190.84 371.67Z" fill="#333"/>
<path d="M188.95 366.45L185.15 372.75L192.75 372.75ZM188.95 368.54L187.06 371.67L190.84 371.67Z" fill="#0a0a0a" fill-rule="evenodd"/>
<path d="M188.95 379.15L185.15 385.45L192.75 385.45ZM188.95 381.24L187.06 384.37L190.84 384.37Z" fill="#0a0a0a" fill-rule="evenodd"/>
<path d="M186.15 388.80H191.75M188.95 386.00V391.60" stroke="#0a0a0a" stroke-width="1.25" fill="none"/>
<circle cx="188.95" cy="394.80" r="2.6" fill="#dcdcdc" stroke="#0a0a0a" stroke-width="1.12"/>
<rect x="197.9" y="312.2" width="70.40" height="36.20" fill="#fff" stroke="#505050" stroke-width="1.15"/>
<path d="M214.00 315.85L209.60 323.15L218.40 323.15ZM214.00 318.37L211.90 321.85L216.10 321.85Z" fill="#0a0a0a" fill-rule="evenodd"/>
<path d="M210.65 329.80H217.35M214.00 326.45V333.15" stroke="#0a0a0a" stroke-width="1.3" fill="none"/>
<circle cx="214.00" cy="340.25" r="3.15" fill="none" stroke="#0a0a0a" stroke-width="1.2"/>
<text x="222.3" y="322.0" font-size="11.3" text-anchor="start" fill="#000" stroke="#000" stroke-width="0.33" >Rabbit 1</text>
<text x="222.3" y="332.4" font-size="11.3" text-anchor="start" fill="#000" stroke="#000" stroke-width="0.33" >Rabbit 2</text>
<text x="222.3" y="343.1" font-size="11.3" text-anchor="start" fill="#000" stroke="#000" stroke-width="0.33" >Rabbit 3</text>
<text x="321.5" y="310.3" font-size="12.2" text-anchor="start" fill="#000" stroke="#000" stroke-width="0.42" >(d)</text>
<path d="M333.9 329.2V491.8H538.7" stroke="#151515" stroke-width="1.5" fill="none"/>
<text transform="translate(327.4,494.7) scale(0.9,1)" font-size="12.5" text-anchor="end" fill="#000" stroke="#000" stroke-width="0.3" >0</text>
<line x1="333.9" y1="475.6" x2="336.2" y2="475.6" stroke="#151515" stroke-width="1.2" />
<text transform="translate(333.2,478.0) scale(0.9,1)" font-size="12.5" text-anchor="end" fill="#000" stroke="#000" stroke-width="0.3" >0.01</text>
<line x1="333.9" y1="459.40000000000003" x2="336.2" y2="459.40000000000003" stroke="#151515" stroke-width="1.2" />
<text transform="translate(333.2,461.8) scale(0.9,1)" font-size="12.5" text-anchor="end" fill="#000" stroke="#000" stroke-width="0.3" >0.02</text>
<line x1="333.9" y1="443.2" x2="336.2" y2="443.2" stroke="#151515" stroke-width="1.2" />
<text transform="translate(333.2,445.59999999999997) scale(0.9,1)" font-size="12.5" text-anchor="end" fill="#000" stroke="#000" stroke-width="0.3" >0.03</text>
<line x1="333.9" y1="427.0" x2="336.2" y2="427.0" stroke="#151515" stroke-width="1.2" />
<text transform="translate(333.2,429.4) scale(0.9,1)" font-size="12.5" text-anchor="end" fill="#000" stroke="#000" stroke-width="0.3" >0.04</text>
<line x1="333.9" y1="410.8" x2="336.2" y2="410.8" stroke="#151515" stroke-width="1.2" />
<text transform="translate(333.2,413.2) scale(0.9,1)" font-size="12.5" text-anchor="end" fill="#000" stroke="#000" stroke-width="0.3" >0.05</text>
<line x1="333.9" y1="394.6" x2="336.2" y2="394.6" stroke="#151515" stroke-width="1.2" />
<text transform="translate(333.2,397.0) scale(0.9,1)" font-size="12.5" text-anchor="end" fill="#000" stroke="#000" stroke-width="0.3" >0.06</text>
<line x1="333.9" y1="378.4" x2="336.2" y2="378.4" stroke="#151515" stroke-width="1.2" />
<text transform="translate(333.2,380.79999999999995) scale(0.9,1)" font-size="12.5" text-anchor="end" fill="#000" stroke="#000" stroke-width="0.3" >0.07</text>
<line x1="333.9" y1="362.20000000000005" x2="336.2" y2="362.20000000000005" stroke="#151515" stroke-width="1.2" />
<text transform="translate(333.2,364.6) scale(0.9,1)" font-size="12.5" text-anchor="end" fill="#000" stroke="#000" stroke-width="0.3" >0.08</text>
<line x1="333.9" y1="346.0" x2="336.2" y2="346.0" stroke="#151515" stroke-width="1.2" />
<text transform="translate(333.2,348.4) scale(0.9,1)" font-size="12.5" text-anchor="end" fill="#000" stroke="#000" stroke-width="0.3" >0.09</text>
<line x1="333.9" y1="329.8" x2="336.2" y2="329.8" stroke="#151515" stroke-width="1.2" />
<text transform="translate(330.4,332.2) scale(0.9,1)" font-size="12.5" text-anchor="end" fill="#000" stroke="#000" stroke-width="0.3" >0.1</text>
<text transform="translate(305.2,404.8) rotate(-90)" font-size="12.2" text-anchor="middle" fill="#000" stroke="#000" stroke-width="0.33" xml:space="preserve">RMS Ripple  (N)</text>
<rect x="374.85" y="456.6" width="54.20" height="35.20" fill="#4e4e4e" stroke="#0a0a0a" stroke-width="1.7"/>
<rect x="443.45" y="455.3" width="53.70" height="36.50" fill="#b2b2b2" stroke="#0a0a0a" stroke-width="1.5"/>
<text x="402.5" y="505.5" font-size="12.4" text-anchor="middle" fill="#000" stroke="#000" stroke-width="0.33" >Sync 20-Hz</text>
<text x="470.6" y="505.5" font-size="12.4" text-anchor="middle" fill="#000" stroke="#000" stroke-width="0.33" >Int 30-Hz</text>
<path d="M401.2 390.3V384.3H428.7M442.0 384.3H469.5V390.3" stroke="#161616" stroke-width="1.5" fill="none"/>
<text transform="translate(436.1,386.3) scale(0.83,1)" font-size="13.6" text-anchor="middle" fill="#000" stroke="#000" stroke-width="0.25" >ns</text>
<path d="M401.90 448.60V464.00" stroke="#0a0a0a" stroke-width="1.2" fill="none"/>
<path d="M399.90 448.70H403.90" stroke="#0a0a0a" stroke-width="1.5" fill="none"/>
<circle cx="401.90" cy="423.00" r="2.6" fill="#fff" stroke="#0a0a0a" stroke-width="1.12"/>
<path d="M398.90 428.80H404.90M401.90 425.80V431.80" stroke="#0a0a0a" stroke-width="1.25" fill="none"/>
<path d="M401.90 461.80L398.00 468.40L405.80 468.40Z" fill="#0a0a0a"/>
<path d="M401.90 462.80L398.00 469.00L405.80 469.00Z" fill="#0a0a0a"/>
<path d="M401.90 467.95L398.10 474.25L405.70 474.25ZM401.90 470.04L400.01 473.17L403.79 473.17Z" fill="#0a0a0a" fill-rule="evenodd"/>
<path d="M469.80 443.30V466.00" stroke="#0a0a0a" stroke-width="1.2" fill="none"/>
<circle cx="469.80" cy="397.40" r="2.7" fill="#fff" stroke="#0a0a0a" stroke-width="1.12"/>
<path d="M467.20 443.20H472.40M469.80 440.60V445.80" stroke="#0a0a0a" stroke-width="1.25" fill="none"/>
<path d="M469.80 458.80L465.90 465.40L473.70 465.40Z" fill="#0a0a0a"/>
<path d="M469.80 461.90L465.90 468.50L473.70 468.50Z" fill="#0a0a0a"/>
<path d="M469.80 469.45L466.00 475.75L473.60 475.75ZM469.80 471.54L467.91 474.67L471.69 474.67Z" fill="#0a0a0a" fill-rule="evenodd"/>
<path d="M469.80 473.25L466.00 479.55L473.60 479.55ZM469.80 475.34L467.91 478.47L471.69 478.47Z" fill="#0a0a0a" fill-rule="evenodd"/>
<rect x="469.7" y="311.6" width="71.20" height="36.50" fill="#fff" stroke="#707070" stroke-width="1.25"/>
<path d="M485.40 315.35L480.80 322.85L490.00 322.85ZM485.40 317.65L482.94 321.65L487.86 321.65Z" fill="#0a0a0a" fill-rule="evenodd"/>
<path d="M481.90 329.80H488.90M485.40 326.30V333.30" stroke="#0a0a0a" stroke-width="1.15" fill="none"/>
<circle cx="485.40" cy="340.25" r="3.35" fill="none" stroke="#0a0a0a" stroke-width="1.1"/>
<text x="493.9" y="322.0" font-size="11.3" text-anchor="start" fill="#000" stroke="#000" stroke-width="0.33" >Rabbit 1</text>
<text x="493.9" y="332.4" font-size="11.3" text-anchor="start" fill="#000" stroke="#000" stroke-width="0.33" >Rabbit 2</text>
<text x="493.9" y="343.1" font-size="11.3" text-anchor="start" fill="#000" stroke="#000" stroke-width="0.33" >Rabbit 3</text>
</svg>
</body></html>
